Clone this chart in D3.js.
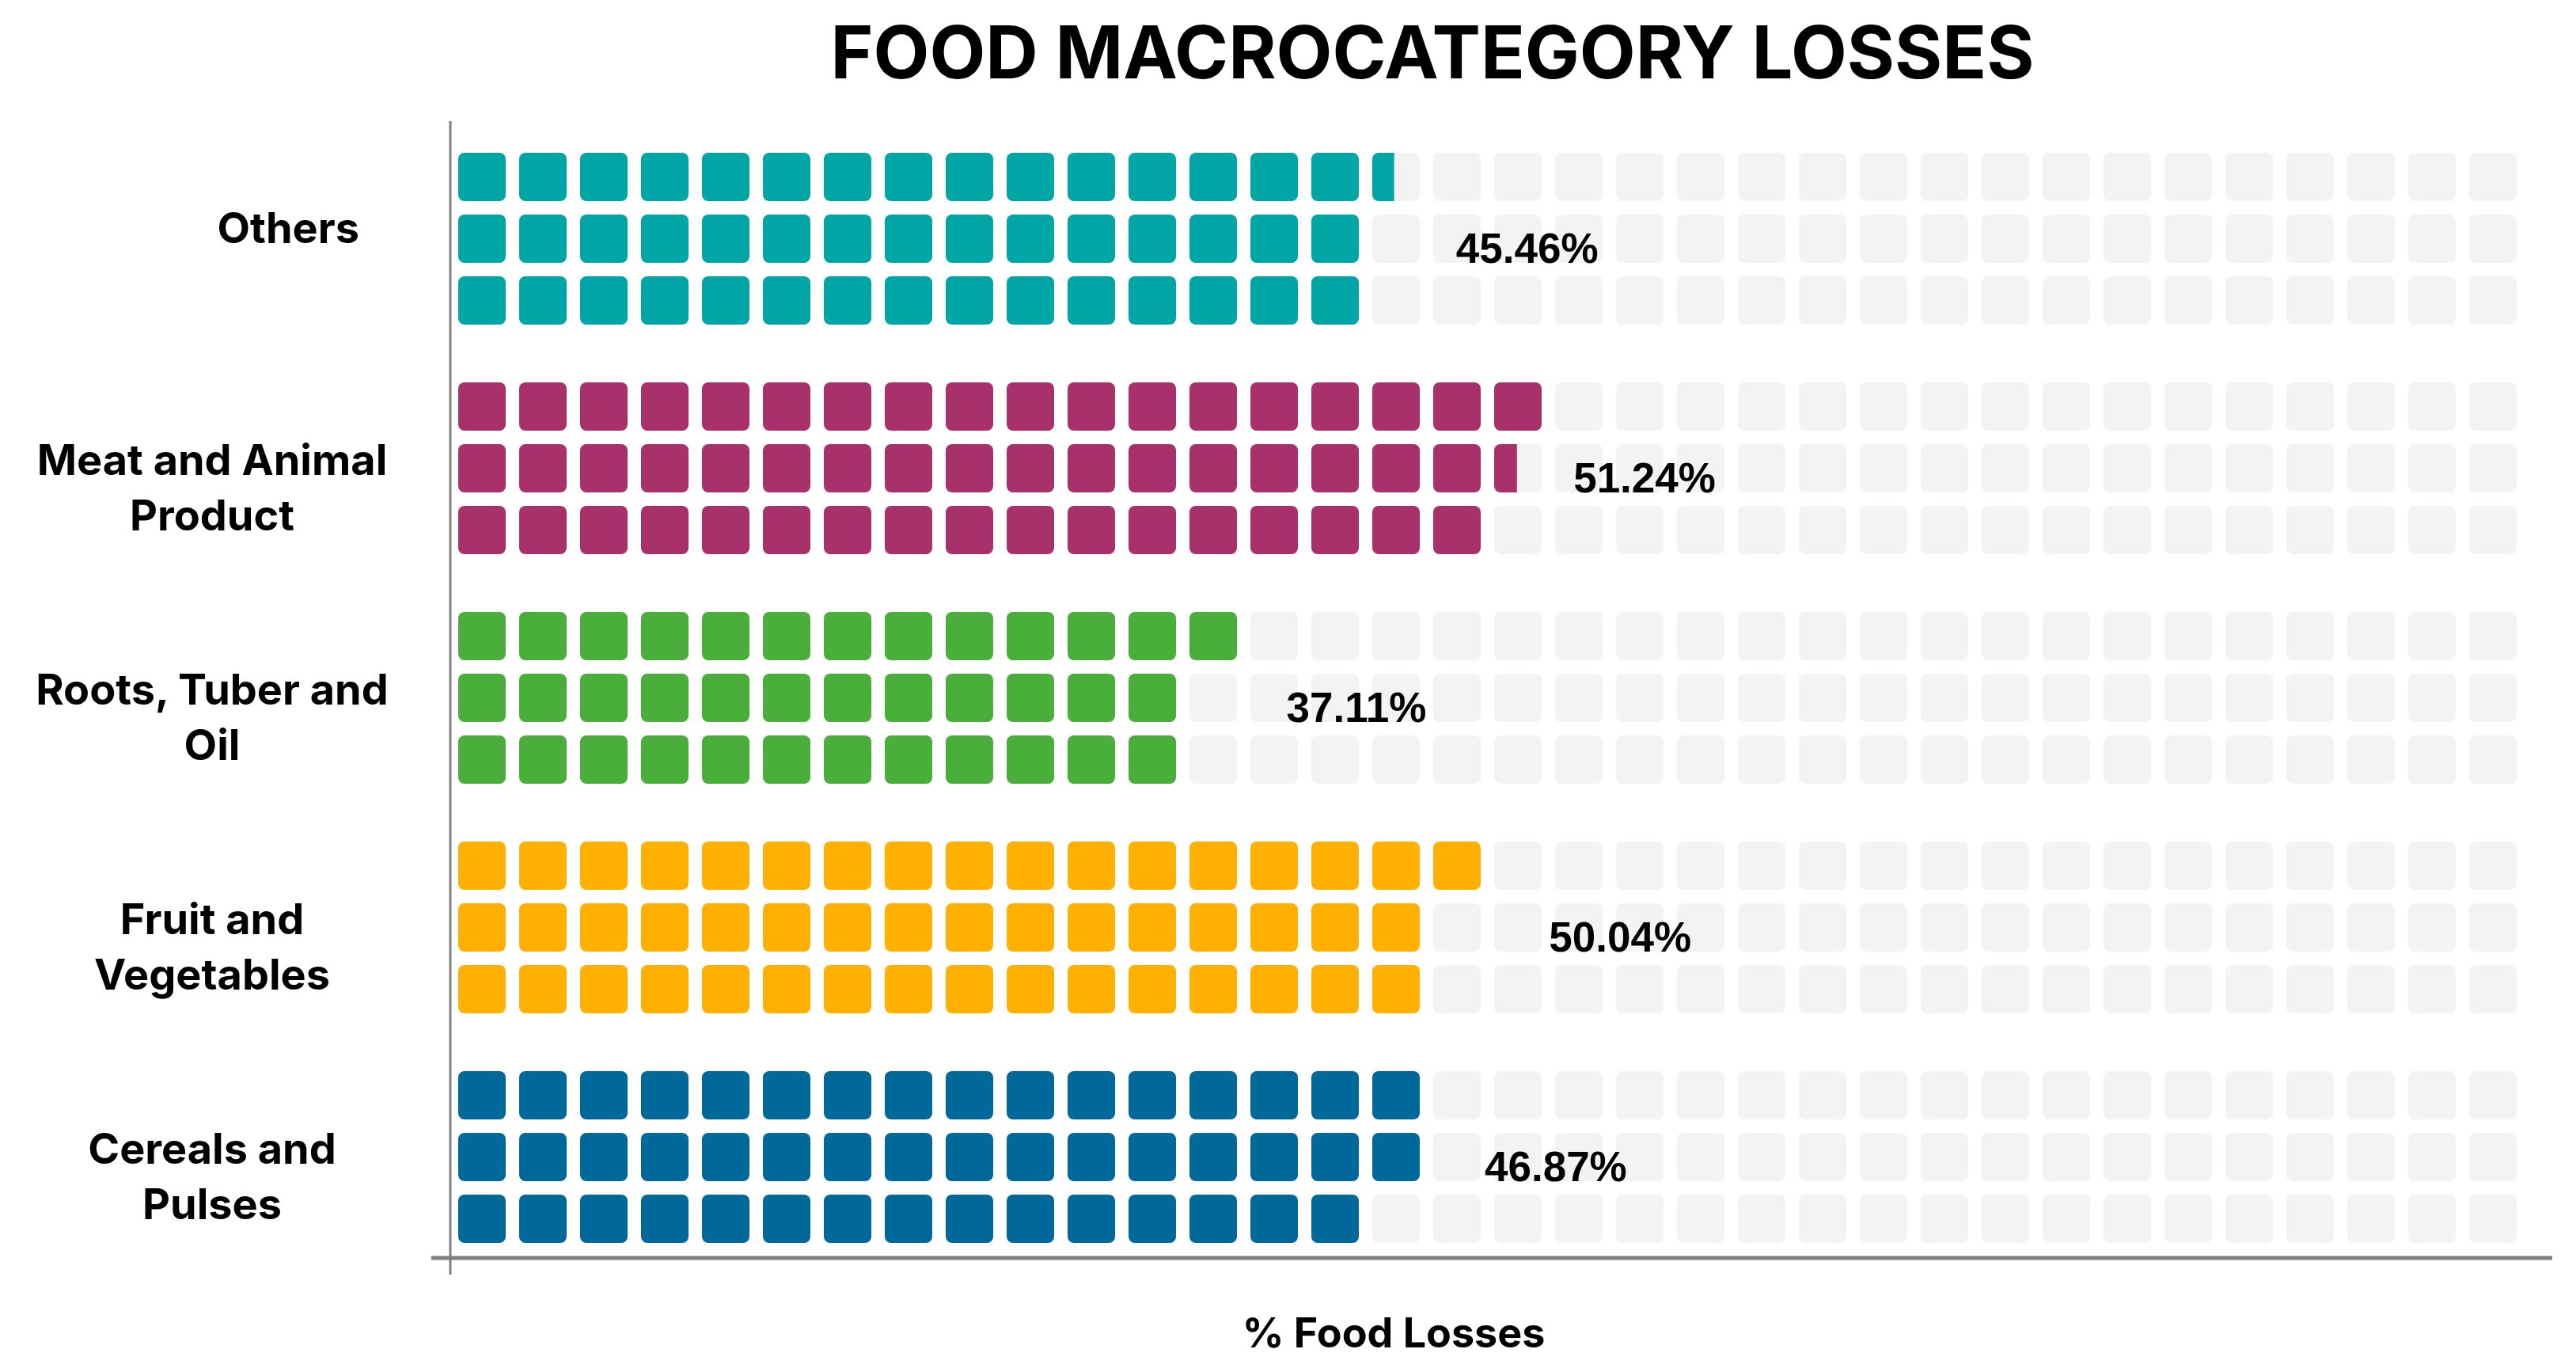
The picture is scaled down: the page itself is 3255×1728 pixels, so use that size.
<!DOCTYPE html>
<html>
<head>
<meta charset="utf-8">
<script src="https://cdn.jsdelivr.net/npm/d3@7"></script>
<style>
  body { margin: 0; background: #fff; }
</style>
</head>
<body>
<svg id="chart"></svg>
<script>
// data
const categories = ["Others", "Meat and Animal Product", "Roots, Tuber and Oil", "Fruit and Vegetables", "Cereals and Pulses"];
const labelLines = [["Others"], ["Meat and Animal", "Product"], ["Roots, Tuber and", "Oil"], ["Fruit and", "Vegetables"], ["Cereals and", "Pulses"]];
// filled squares in each of the 3 rows (1 square = 1%)
const rowValues = [
  [15.46, 15, 15],
  [18, 17.48, 17],
  [13, 12, 12],
  [17, 16, 16],
  [16, 16, 15]
];
const percentages = [45.46, 51.24, 37.11, 50.04, 46.87];
const nCols = 34;
const nRows = 3;

const width = 3255;
const height = 1728;
const margin = { top: 193, left: 579 };
const colPitch = 77, cellW = 60, cellH = 61, rowPitch = 78, groupPitch = 290;

const palette = ["#00a6a6", "#a8316b", "#4aae3b", "#ffb000", "#00699a"];
const color = d3.scaleOrdinal().domain(categories).range(palette);

const svg = d3.select("#chart").attr("width", width).attr("height", height);

const x = d3.scaleLinear().domain([0, nCols]).range([margin.left, margin.left + nCols * colPitch]);
const yGroup = d3.scaleBand().domain(categories)
  .range([margin.top, margin.top + categories.length * groupPitch]).paddingInner(0);
const yRow = d3.scaleLinear().domain([0, 1]).range([0, rowPitch]);

// axes lines
const axisColor = "#7f7f7f";
svg.append("line")
  .attr("x1", 569).attr("x2", 569).attr("y1", 153).attr("y2", 1610)
  .attr("stroke", axisColor).attr("stroke-width", 3);
svg.append("line")
  .attr("x1", 545).attr("x2", 3225).attr("y1", 1589).attr("y2", 1589)
  .attr("stroke", axisColor).attr("stroke-width", 5);

const defs = svg.append("defs");

const groups = svg.selectAll(".cat")
  .data(categories.map((c, i) => ({ cat: c, i, rows: rowValues[i], pct: percentages[i], lines: labelLines[i] })))
  .join("g")
  .attr("class", "cat")
  .attr("transform", d => `translate(0,${yGroup(d.cat)})`);

// background grey cells
const grid = d3.cross(d3.range(nRows), d3.range(nCols));
groups.selectAll(".bg")
  .data(grid)
  .join("rect")
  .attr("class", "bg")
  .attr("x", d => x(d[1]))
  .attr("y", d => yRow(d[0]))
  .attr("width", cellW).attr("height", cellH)
  .attr("rx", 8)
  .attr("fill", "#f3f3f3");

// filled cells, a partial one is cut by a clip rect
groups.each(function(g) {
  const cells = [];
  g.rows.forEach((v, r) => {
    const full = Math.floor(v + 1e-9);
    for (let c = 0; c < full; c++) cells.push({ r, c, frac: 1 });
    const rest = v - full;
    if (rest > 1e-6) cells.push({ r, c: full, frac: rest });
  });
  const sel = d3.select(this);
  cells.forEach((d, k) => {
    const rect = sel.append("rect")
      .attr("x", x(d.c))
      .attr("y", yRow(d.r))
      .attr("width", cellW).attr("height", cellH)
      .attr("rx", 8)
      .attr("fill", color(g.cat));
    if (d.frac < 1) {
      const id = `clip-${g.i}-${k}`;
      defs.append("clipPath").attr("id", id)
        .append("rect")
        .attr("x", x(d.c)).attr("y", yRow(d.r) - 2)
        .attr("width", cellW * d.frac).attr("height", cellH + 4);
      rect.attr("clip-path", `url(#${id})`);
    }
  });
});

// value labels
groups.append("text")
  .attr("x", d => x(d.pct / nRows) + 94)
  .attr("y", yRow(1) + cellH)
  .attr("font-family", "'Liberation Sans', Arial, sans-serif")
  .attr("font-weight", "bold")
  .attr("font-size", 53)
  .attr("fill", "#000")
  .text(d => d.pct.toFixed(2) + "%");

// category labels
const lineH = 70;
groups.each(function(g) {
  const single = g.lines.length === 1;
  const mid = yRow(1) + cellH / 2;
  const t = d3.select(this).append("text")
    .attr("font-family", "Inter, 'Open Sans', sans-serif")
    .attr("font-weight", "bold")
    .attr("font-size", 54)
    .attr("fill", "#000")
    .attr("text-anchor", single ? "end" : "middle");
  const firstBase = single ? mid - 14 + 19 : mid + 24 - lineH / 2 + 19;
  g.lines.forEach((ln, j) => {
    t.append("tspan")
      .attr("x", single ? 454 : 268)
      .attr("y", firstBase + j * lineH)
      .text(ln);
  });
});

// title
svg.append("text")
  .attr("x", 1810).attr("y", 99)
  .attr("text-anchor", "middle")
  .attr("font-family", "Inter, 'Open Sans', sans-serif")
  .attr("font-weight", "bold")
  .attr("font-size", 92)
  .attr("fill", "#000")
  .text("FOOD MACROCATEGORY LOSSES");

// x axis title
svg.append("text")
  .attr("x", 1761).attr("y", 1702)
  .attr("text-anchor", "middle")
  .attr("font-family", "Inter, 'Open Sans', sans-serif")
  .attr("font-weight", "bold")
  .attr("font-size", 52)
  .attr("fill", "#000")
  .text("% Food Losses");
</script>
</body>
</html>
